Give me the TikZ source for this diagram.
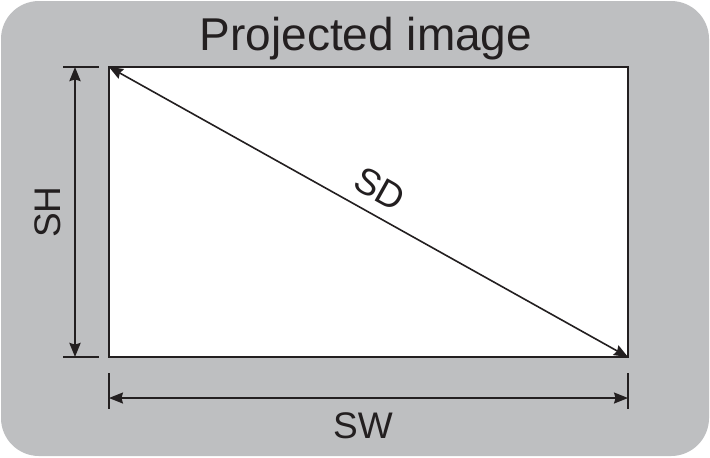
\documentclass[tikz,border=0pt]{standalone}
\usepackage{fontspec}
\setmainfont{Liberation Sans}
\usepackage{tikz}
\usetikzlibrary{arrows.meta, positioning}
\definecolor{panelgray}{RGB}{190, 191, 193}
\definecolor{inkdark}{RGB}{35, 31, 32}

\begin{document}
\begin{tikzpicture}[x=0.5pt, y=-0.5pt,
    dimarrow/.style={inkdark, line width=0.8pt, {Stealth[length=7pt, width=5.5pt, inset=0.8pt]}-{Stealth[length=7pt, width=5.5pt, inset=0.8pt]}},
    dimtick/.style={inkdark, line width=0.9pt},
    dimlabel/.style={font=\fontsize{18.5}{20}\selectfont, text=inkdark, inner sep=0pt}]
  \useasboundingbox (0,0) rectangle (710,457);

  % Background panel
  \fill[panelgray, rounded corners=19pt] (1,1) rectangle (709,456);

  % Title
  \node[font=\fontsize{23}{26}\selectfont, text=inkdark, anchor=base, inner sep=0pt] (title) at (366,50) {Projected image};

  % Screen
  \node[draw=inkdark, fill=white, line width=1pt, outer sep=0pt, inner sep=0pt,
        minimum width=259.5pt, minimum height=145pt] (screen) at (368.5,212) {};

  % Diagonal
  \draw[dimarrow] (screen.north west) -- (screen.south east);
  \node[dimlabel, rotate=-29.2] (sdlabel) at (380,189) {SD};

  % Height
  \coordinate (shtop) at (75,67);
  \coordinate (shbot) at (75,357);
  \draw[dimtick] (63,67) -- (99,67);
  \draw[dimtick] (63,357) -- (99,357);
  \draw[dimarrow, line width=1.3pt] (shtop) -- (shbot);
  \node[dimlabel, rotate=90] (shlabel) at (48,212) {SH};

  % Width
  \coordinate (swleft) at (109,398);
  \coordinate (swright) at (628,398);
  \draw[dimtick] (109,373) -- (109,409);
  \draw[dimtick] (628,373) -- (628,409);
  \draw[dimarrow] (swleft) -- (swright);
  \node[dimlabel] (swlabel) at (363,426) {SW};
\end{tikzpicture}
\end{document}
